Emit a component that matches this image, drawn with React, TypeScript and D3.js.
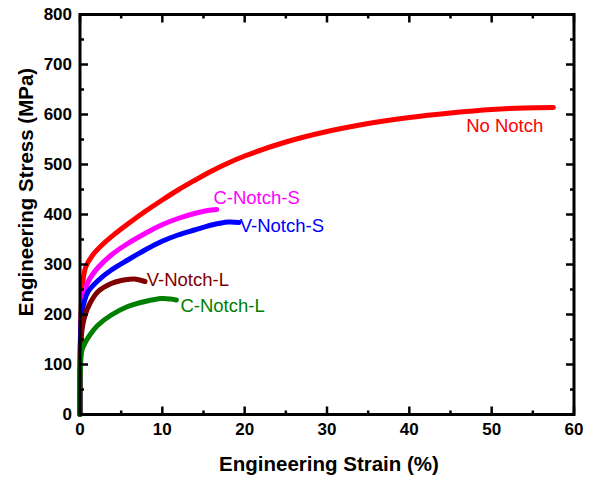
import React from "react"
import * as d3 from "d3"

// strain (%) / stress (MPa)
const noNotchStrain = [0, 0.05, 0.16, 0.33, 0.7, 1.5, 2.8, 4.3, 5.8, 7.9, 9.9, 11.9, 13.9, 16, 18, 20, 25, 30, 35, 40, 45, 50, 54, 57.5]
const noNotchStress = [0, 150, 216, 264, 295, 318, 341, 362, 381, 406, 428, 449, 468, 487, 503, 517, 545, 566, 582, 594, 603, 610, 613, 614]

const cNotchSStrain = [0, 0.05, 0.2, 0.45, 1, 2.2, 3.8, 5.8, 7.9, 9.9, 11.9, 13.9, 15.5, 16.6]
const cNotchSStress = [0, 150, 210, 240, 266, 294, 319, 342, 362, 379, 392, 402, 408, 410]

const vNotchSStrain = [0, 0.05, 0.2, 0.5, 1, 2.2, 3.8, 5.8, 7.9, 9.9, 11.9, 13.9, 16, 18, 19.3]
const vNotchSStress = [0, 140, 195, 225, 246, 268, 289, 309, 329, 346, 359, 369, 379, 385, 384]

const vNotchLStrain = [0, 0.05, 0.24, 0.57, 1.2, 2.2, 3.8, 5, 5.8, 6.6, 7.9]
const vNotchLStress = [0, 110, 169, 196, 222, 246, 262, 268, 270, 271, 266]

const cNotchLStrain = [0, 0.05, 0.24, 0.57, 1.2, 2.2, 3.8, 5.8, 7.9, 9.9, 11, 11.7]
const cNotchLStress = [0, 90, 129, 142, 159, 179, 199, 216, 226, 232, 231, 229]

const seriesNames = ["No Notch", "C-Notch-S", "V-Notch-S", "V-Notch-L", "C-Notch-L"]
const seriesColors = ["#ff0000", "#ff00ff", "#0000ff", "#800000", "#008000"]
const seriesX = [noNotchStrain, cNotchSStrain, vNotchSStrain, vNotchLStrain, cNotchLStrain]
const seriesY = [noNotchStress, cNotchSStress, vNotchSStress, vNotchLStress, cNotchLStress]
// label anchor in data units (strain, stress)
const labelPos = [[46.9, 565], [16.2, 421], [19.4, 365], [8.1, 257], [12.2, 205]]

const xTicks = [0, 10, 20, 30, 40, 50, 60]
const yTicks = [0, 100, 200, 300, 400, 500, 600, 700, 800]

const margin = { top: 14.5, right: 28, bottom: 64.5, left: 80 }
const width = 602
const height = 479

export default function App() {
  const boundsWidth = width - margin.left - margin.right
  const boundsHeight = height - margin.top - margin.bottom

  const x = d3.scaleLinear().domain([0, 60]).range([0, boundsWidth])
  const y = d3.scaleLinear().domain([0, 800]).range([boundsHeight, 0])

  const line = d3.line<[number, number]>()
    .x(d => x(d[0]))
    .y(d => y(d[1]))
    .curve(d3.curveCatmullRom.alpha(0.5))

  const xMinor = d3.range(5, 60, 10)
  const yMinor = d3.range(50, 800, 100)
  const major = 8
  const minor = 4

  return (
    <svg width={width} height={height} style={{ position: "absolute", left: 0, top: 0 }}
      fontFamily="'Liberation Sans', Arial, sans-serif">
      <g transform={`translate(${margin.left},${margin.top})`}>
        {seriesNames.map((name, i) => (
          <path key={name}
            d={line(seriesX[i].map((v, j) => [v, seriesY[i][j]] as [number, number])) || ""}
            fill="none" stroke={seriesColors[i]} strokeWidth={5}
            strokeLinecap="round" strokeLinejoin="round" />
        ))}
        {seriesNames.map((name, i) => (
          <text key={name + "l"} x={x(labelPos[i][0])} y={y(labelPos[i][1])}
            fill={seriesColors[i]} fontSize={18.5}>{name}</text>
        ))}

        {/* ticks, all pointing inward */}
        <g stroke="#000" strokeWidth={2.5}>
          {xTicks.map(t => (
            <g key={"xt" + t}>
              <line x1={x(t)} x2={x(t)} y1={boundsHeight} y2={boundsHeight - major} />
              <line x1={x(t)} x2={x(t)} y1={0} y2={major} />
            </g>
          ))}
          {xMinor.map(t => (
            <g key={"xm" + t}>
              <line x1={x(t)} x2={x(t)} y1={boundsHeight} y2={boundsHeight - minor} />
              <line x1={x(t)} x2={x(t)} y1={0} y2={minor} />
            </g>
          ))}
          {yTicks.map(t => (
            <g key={"yt" + t}>
              <line x1={0} x2={major} y1={y(t)} y2={y(t)} />
              <line x1={boundsWidth} x2={boundsWidth - major} y1={y(t)} y2={y(t)} />
            </g>
          ))}
          {yMinor.map(t => (
            <g key={"ym" + t}>
              <line x1={0} x2={minor} y1={y(t)} y2={y(t)} />
              <line x1={boundsWidth} x2={boundsWidth - minor} y1={y(t)} y2={y(t)} />
            </g>
          ))}
        </g>
        <rect x={0} y={0} width={boundsWidth} height={boundsHeight}
          fill="none" stroke="#000" strokeWidth={3} />

        {xTicks.map(t => (
          <text key={"xl" + t} x={x(t)} y={boundsHeight + 20.5} textAnchor="middle"
            fontSize={17} fontWeight="bold">{t}</text>
        ))}
        {yTicks.map(t => (
          <text key={"yl" + t} x={-8} y={y(t) + 5.5} textAnchor="end"
            fontSize={17} fontWeight="bold">{t}</text>
        ))}
      </g>
      <text x={329} y={471} textAnchor="middle" fontSize={20.5} fontWeight="bold">
        Engineering Strain (%)
      </text>
      <text transform="translate(33,192) rotate(-90)" textAnchor="middle"
        fontSize={20.5} fontWeight="bold">
        Engineering Stress (MPa)
      </text>
    </svg>
  )
}
